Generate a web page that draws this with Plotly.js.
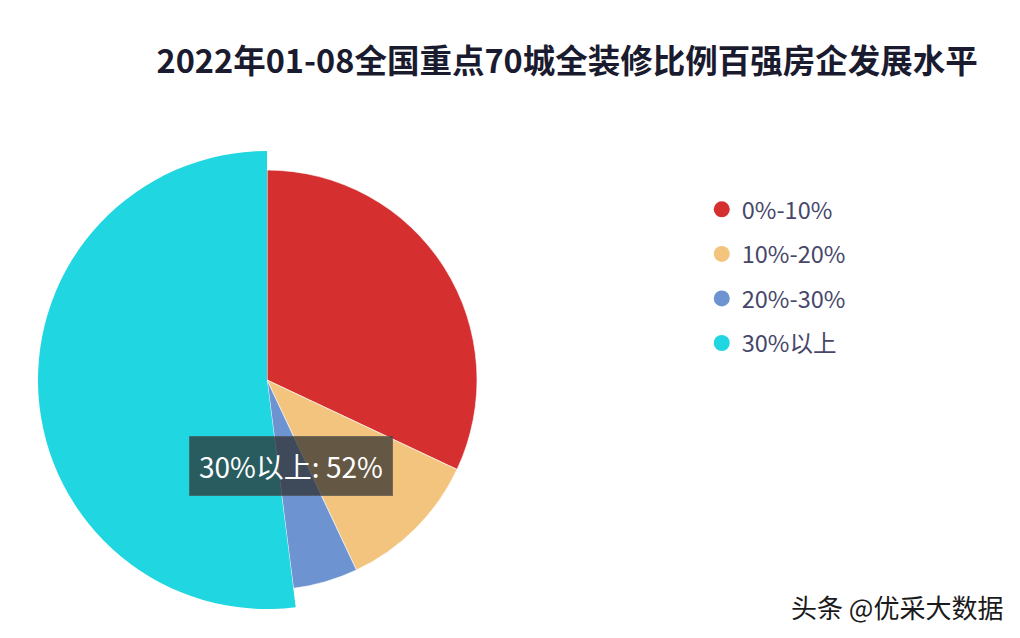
<!DOCTYPE html>
<html><head><meta charset="utf-8">
<script src="https://cdn.plot.ly/plotly-3.0.1.min.js"></script>
<style>body{margin:0;background:#fff}#c{width:1020px;height:638px}</style>
</head><body><div id="c"></div>
<script>
const categories = ['0%-10%', '10%-20%', '20%-30%', '30%以上'];
const values = [32, 11, 5, 52];
const colors = ['#d62f2f', '#f3c47e', '#6d94d1', '#1fd6e1'];
const highlightIndex = 3;
const titleText = '2022年01-08全国重点70城全装修比例百强房企发展水平';
const watermark = '头条 @优采大数据';

const F = '"Noto Sans CJK SC", "Noto Sans", sans-serif';
const W = 1020, H = 638;
const cx = 267, cy = 380, r = 210, rBig = 229;

function dom(rad) {
  const hx = rad / W, hy = rad / H;
  const px = cx / W, py = (H - cy) / H;
  return {x: [px - hx, px + hx], y: [py - hy, py + hy]};
}

const traces = [];
traces.push({
  type: 'pie', values: values, labels: categories, sort: false,
  direction: 'clockwise', rotation: 0,
  marker: {colors: colors.map((c, i) => i === highlightIndex ? 'rgba(0,0,0,0)' : c),
           line: {color: 'rgba(255,255,255,0.6)', width: 1}},
  textinfo: 'none', hoverinfo: 'none', showlegend: false,
  domain: dom(r)
});
traces.push({
  type: 'pie', values: values, labels: categories, sort: false,
  direction: 'clockwise', rotation: 0,
  marker: {colors: colors.map((c, i) => i === highlightIndex ? c : 'rgba(0,0,0,0)'),
           line: {color: 'rgba(255,255,255,0)', width: 0}},
  textinfo: 'none', hoverinfo: 'none', showlegend: false,
  domain: dom(rBig)
});
categories.forEach((c, i) => {
  traces.push({
    type: 'scatter', mode: 'markers', x: [null], y: [null], name: c,
    legendgroup: 'g' + i,
    marker: {symbol: 'circle', size: 20, color: colors[i]},
    hoverinfo: 'none'
  });
});

const layout = {
  width: W, height: H,
  margin: {l: 0, r: 0, t: 0, b: 0},
  paper_bgcolor: '#ffffff', plot_bgcolor: '#ffffff',
  title: {text: '<b>' + titleText + '</b>', x: 0.556, xanchor: 'center', y: 0.903, yanchor: 'middle',
          font: {family: F, size: 32.5, color: '#1b1b30'}},
  xaxis: {visible: false}, yaxis: {visible: false},
  showlegend: true,
  legend: {x: 0.688, y: 0.706, xanchor: 'left', yanchor: 'top',
           font: {family: F, size: 23.5, color: '#47476a'},
           tracegroupgap: 11, itemwidth: 30, bgcolor: 'rgba(0,0,0,0)'},
  annotations: [
    {xref: 'paper', yref: 'paper', x: 291 / W, y: (H - 466) / H, xanchor: 'center', yanchor: 'middle',
     text: categories[highlightIndex] + ': ' + values[highlightIndex] + '%', showarrow: false,
     font: {family: F, size: 28, color: '#ffffff'},
     bgcolor: 'rgba(45,45,45,0.72)', bordercolor: 'rgba(80,80,80,0.6)', borderwidth: 1, borderpad: 9},
    {xref: 'paper', yref: 'paper', x: 1005 / W, y: (H - 606) / H, xanchor: 'right', yanchor: 'middle',
     text: watermark, showarrow: false,
     font: {family: F, size: 26, color: '#1a1a1a'}}
  ]
};

Plotly.newPlot('c', traces, layout, {staticPlot: true, displayModeBar: false});
</script></body></html>
